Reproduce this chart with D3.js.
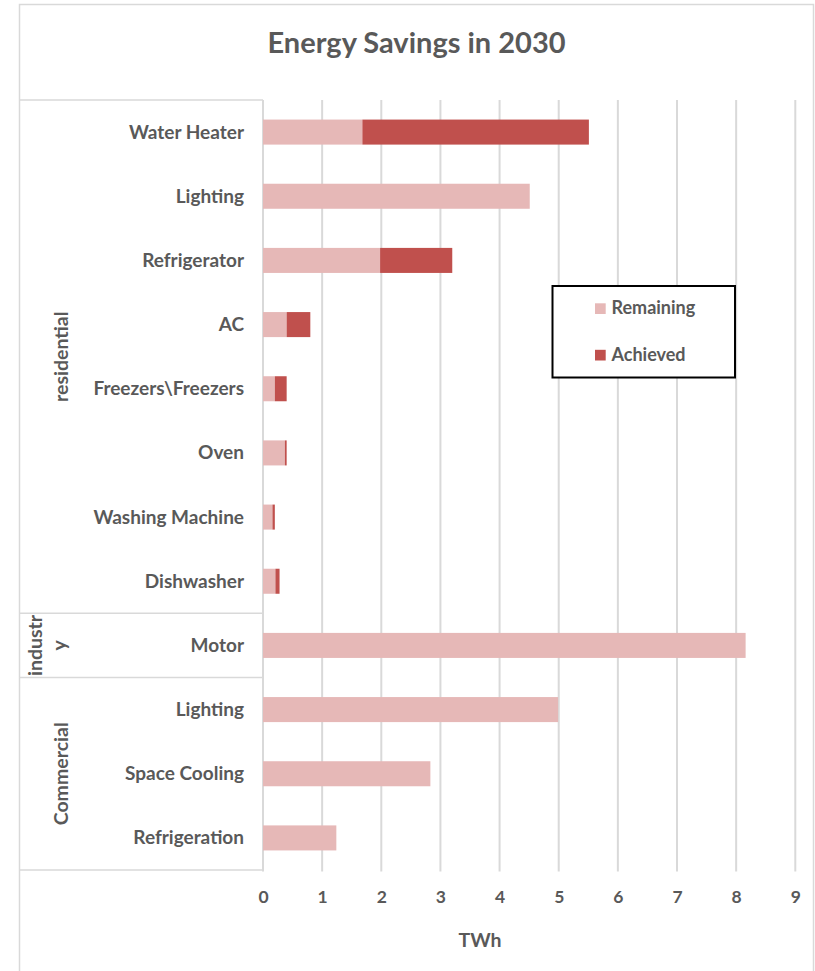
<!DOCTYPE html>
<html>
<head>
<meta charset="utf-8">
<script src="https://cdn.jsdelivr.net/npm/d3@7"></script>
<style>
  html, body { margin: 0; padding: 0; background: #fff; }
  svg { display: block; }
  text { font-family: Lato, "Open Sans", sans-serif; font-weight: bold; fill: #595959; }
</style>
</head>
<body>
<svg id="chart" width="815" height="971"></svg>
<script>
// ---- data ----
const categories = ["Water Heater", "Lighting", "Refrigerator", "AC", "Freezers\\Freezers", "Oven",
  "Washing Machine", "Dishwasher", "Motor", "Lighting", "Space Cooling", "Refrigeration"];
const remaining = [1.68, 4.51, 1.98, 0.40, 0.20, 0.37, 0.16, 0.21, 8.16, 4.99, 2.83, 1.24];
const achieved  = [3.83, 0.00, 1.22, 0.40, 0.20, 0.03, 0.04, 0.07, 0.00, 0.00, 0.00, 0.00];
const groupNames = ["residential", "industry", "Commercial"];
const groupLabelLines = [["residential"], ["industr", "y"], ["Commercial"]];
const groupSizes = [8, 1, 3];
const seriesNames = ["Remaining", "Achieved"];
const seriesColors = ["#e6b8b7", "#c0504d"];
const xTicks = [0, 1, 2, 3, 4, 5, 6, 7, 8, 9];
const title = "Energy Savings in 2030";
const xTitle = "TWh";

// ---- layout ----
const svg = d3.select("#chart");
const plot = { left: 263, right: 795.3, top: 100, bottom: 870 };
const boxLeft = 19.5;
const gridColor = "#d9d9d9";

const x = d3.scaleLinear().domain([0, 9]).range([plot.left, plot.right]);
const y = d3.scaleBand().domain(d3.range(categories.length))
  .range([plot.top, plot.bottom]).paddingInner(0.61).paddingOuter(0.305);

// outer frame
svg.append("rect").attr("x", 19.5).attr("y", 4.5).attr("width", 794).attr("height", 1000)
  .attr("fill", "none").attr("stroke", gridColor).attr("stroke-width", 1.5);

// title
svg.append("text").attr("x", 416.5).attr("y", 53).attr("text-anchor", "middle")
  .style("font-size", "29px").text(title);

// gridlines
svg.append("g").selectAll("line").data(xTicks.slice(1)).join("line")
  .attr("x1", d => x(d)).attr("x2", d => x(d))
  .attr("y1", plot.top).attr("y2", plot.bottom + 1.5)
  .attr("stroke", gridColor).attr("stroke-width", 2);

// category box lines
const bandStep = (plot.bottom - plot.top) / categories.length;
const boxG = svg.append("g").attr("stroke", gridColor).attr("stroke-width", 1.5);
boxG.append("line").attr("x1", boxLeft).attr("x2", plot.left).attr("y1", plot.top).attr("y2", plot.top);
boxG.append("line").attr("x1", plot.left).attr("x2", plot.left).attr("y1", plot.top).attr("y2", plot.bottom + 1.5).attr("stroke-width", 2);
let cum = 0;
const groupBounds = groupSizes.map(s => { const a = cum; cum += s; return [a, cum]; });
groupBounds.forEach(([a, b]) => {
  const yb = plot.top + b * bandStep;
  boxG.append("line").attr("x1", boxLeft).attr("x2", plot.left).attr("y1", yb).attr("y2", yb);
});

// stacked bars
const stackData = categories.map((c, i) => ({ i, Remaining: remaining[i], Achieved: achieved[i] }));
const stacked = d3.stack().keys(seriesNames)(stackData);
svg.append("g").selectAll("g").data(stacked).join("g")
  .attr("fill", (d, k) => seriesColors[k])
  .selectAll("rect").data(d => d.filter(p => p[1] - p[0] > 0)).join("rect")
  .attr("x", p => x(p[0])).attr("width", p => x(p[1]) - x(p[0]))
  .attr("y", p => y(p.data.i)).attr("height", y.bandwidth());

// category labels
svg.append("g").selectAll("text").data(categories).join("text")
  .attr("x", 244).attr("y", (d, i) => y(i) + y.bandwidth() / 2 + 6.5)
  .attr("text-anchor", "end").style("font-size", "19px").text(d => d);

// group labels (rotated)
const groupLineX = [[68], [42, 65.5], [68]];
groupLabelLines.forEach((lines, g) => {
  const [a, b] = groupBounds[g];
  const cy = plot.top + (a + b) / 2 * bandStep;
  lines.forEach((ln, k) => {
    svg.append("text")
      .attr("transform", `translate(${groupLineX[g][k]},${cy}) rotate(-90)`)
      .attr("text-anchor", "middle").style("font-size", "19.5px").text(ln);
  });
});

// x axis
const xAxis = d3.axisBottom(x).tickValues(xTicks).tickSize(0).tickPadding(0).tickFormat(d3.format("d"));
const ax = svg.append("g").attr("transform", `translate(0,${903})`).call(xAxis);
ax.select(".domain").remove();
ax.selectAll("text").attr("dy", 0).style("font-size", "17.5px").attr("fill", "#595959");

// axis title
svg.append("text").attr("x", 480).attr("y", 947).attr("text-anchor", "middle")
  .style("font-size", "19.5px").text(xTitle);

// legend
const lg = svg.append("g");
lg.append("rect").attr("x", 552.5).attr("y", 286).attr("width", 182.5).attr("height", 91.5)
  .attr("fill", "#fff").attr("stroke", "#000").attr("stroke-width", 2);
seriesNames.forEach((s, k) => {
  const by = 314.3 + k * 46.5;
  lg.append("rect").attr("x", 595).attr("y", by - 11).attr("width", 10.7).attr("height", 10.7)
    .attr("fill", seriesColors[k]);
  lg.append("text").attr("x", 611.5).attr("y", by).style("font-size", "18px").text(s);
});
</script>
</body>
</html>
